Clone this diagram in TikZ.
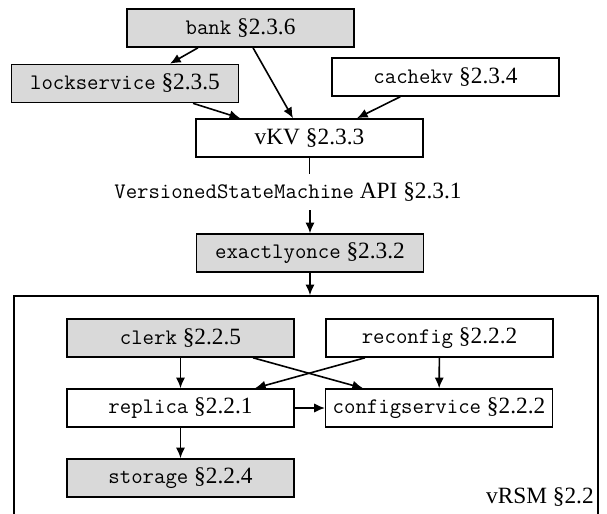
\documentclass[tikz,border=0pt]{standalone}
\usepackage{fontspec}
\setmainfont{Liberation Serif}
\setmonofont{Latin Modern Mono}[Scale=0.95]
\usetikzlibrary{arrows.meta}

\begin{document}
\begin{tikzpicture}[x=0.75pt,y=0.75pt,yscale=-1,xscale=1,
	font=\fontsize{17.5}{21}\selectfont,
	box/.style={draw, line width=1.2pt, minimum width=170pt, minimum height=28.5pt, inner sep=0pt},
	greybox/.style={box, fill=gray!30},
	arr/.style={line width=1.2pt, -{Latex[length=8pt,width=7pt]}}]
	\useasboundingbox (0,0) rectangle (607,514);

	%Shape: Rectangle (outer vRSM box, bottom edge runs off the page)
	\node (vrsm) at (306,406) [draw, line width=1.2pt, minimum width=438pt, minimum height=165pt, inner sep=0pt] {};
	% Text Node
	\node (vrsmlabel) at (594,503) [anchor=base east, inner sep=0pt] {vRSM §2.2};

	%Shape: Rectangle [top layer]
	\node (bank) at (240.5,28) [greybox] {\texttt{bank} §2.3.6};
	\node (lock) at (125,83.5) [greybox] {\texttt{lockservice} §2.3.5};
	\node (cachekv) at (445.5,77) [box] {\texttt{cachekv} §2.3.4};
	\node (vkv) at (309.5,138) [box] {vKV §2.3.3};

	% Text Node
	\node (api) at (288,192) [inner sep=6.5pt] {\texttt{VersionedStateMachine} API §2.3.1};

	%Shape: Rectangle
	\node (exactly) at (310,253) [greybox] {\texttt{exactlyonce} §2.3.2};

	%Shape: Rectangle [inside vRSM]
	\node (clerk) at (180.5,338) [greybox] {\texttt{clerk} §2.2.5};
	\node (reconfig) at (439.5,338) [box] {\texttt{reconfig} §2.2.2};
	\node (replica) at (180.5,408) [box] {\texttt{replica} §2.2.1};
	\node (config) at (439,408) [box] {\texttt{configservice} §2.2.2};
	\node (storage) at (180.5,478) [greybox] {\texttt{storage} §2.2.4};

	%Straight Lines [top layer]
	\draw [arr] ([xshift=-31.9pt]bank.south) -- ([xshift=33.75pt]lock.north);
	\draw [arr] ([xshift=9.4pt]bank.south) -- ([xshift=-12.4pt]vkv.north);
	\draw [arr] ([xshift=51pt]lock.south) -- ([xshift=-52pt]vkv.north);
	\draw [arr] ([xshift=-34pt]cachekv.south) -- ([xshift=35.6pt]vkv.north);
	\draw [line width=1.2pt] (vkv.south) -- (vkv.south |- api.north);
	\draw [arr] (exactly.north |- api.south) -- (exactly.north);
	\draw [arr] (exactly.south) -- (exactly.south |- vrsm.north);

	%Straight Lines [inside vRSM]
	\draw [arr] (clerk) -- (replica);
	\draw [arr] (replica) -- (storage);
	\draw [arr] (reconfig) -- (config);
	\draw [arr] (replica) -- (config);
	\draw [arr] ([xshift=54.4pt]clerk.south) -- ([xshift=-57pt]config.north);
	\draw [arr] ([xshift=-55.9pt]reconfig.south) -- ([xshift=55.9pt]replica.north);
\end{tikzpicture}
\end{document}
